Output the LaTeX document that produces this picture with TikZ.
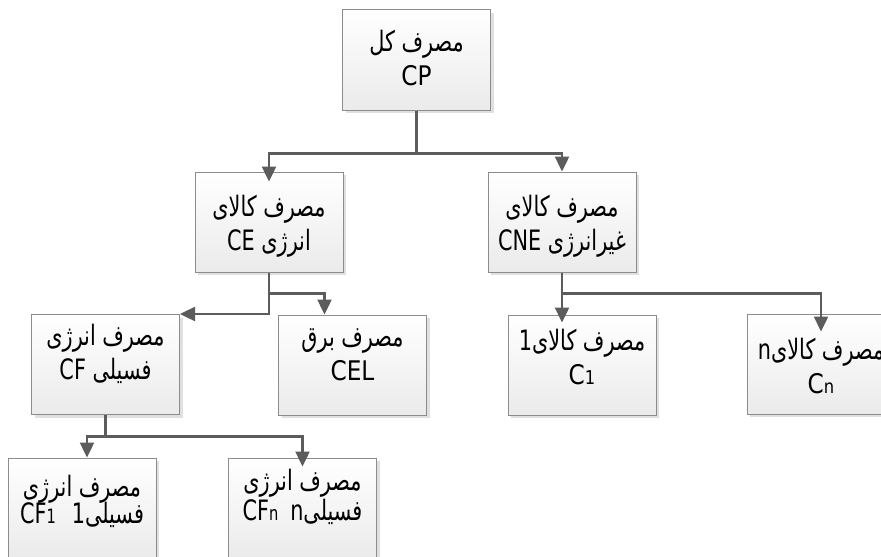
\documentclass[tikz,border=0pt]{standalone}
\usepackage{fontspec}
\setmainfont{DejaVu Sans}[FakeStretch=0.86]
\newfontfamily\farsi[Script=Arabic,FakeStretch=0.74,Scale=1.04]{DejaVu Sans}
\TeXXeTstate=1
\usetikzlibrary{arrows.meta,shadows}

\newcommand\fa[1]{{\farsi\beginR #1\endR}}
\newcommand\la[1]{\beginL #1\endL}
\newcommand\sm[1]{{\fontsize{9.5}{9.5}\selectfont #1}}

\tikzset{
  box/.style={draw=black!45, line width=0.5pt, top color=white, bottom color=black!8,
    minimum width=74pt, minimum height=50pt, inner sep=0pt,
    drop shadow={shadow xshift=1.5pt, shadow yshift=-1.5pt, fill=black!12, opacity=1}},
  boxtext/.style={align=center, font=\fontsize{13.5}{17}\selectfont, inner sep=0pt},
  link/.style={draw=black!64, line width=1.2pt, -{Triangle[width=7pt,length=7.5pt]}}
}

\begin{document}
\begin{tikzpicture}[x=0.5pt, y=-0.5pt]

   \fill[white] (0,0) rectangle (881,556);
   \useasboundingbox (0,0) rectangle (881,556);

   \foreach \nm/\x/\y/\dy/\tx in {
       cp/416.5/60/1/{\fa{مصرف کل}\\CP},
       ce/269/222/-2.25/{\fa{مصرف کالای}\\\fa{انرژی \la{CE}}},
       cne/562/222/-2.25/{\fa{مصرف کالای}\\\fa{غیرانرژی \la{CNE}}},
       cf/105.5/364.5/5.5/{\fa{مصرف انرژی}\\\fa{فسیلی \la{CF}}},
       cel/352.5/365/5/{\fa{مصرف برق}\\CEL},
       cg1/582/365/4/{\fa{مصرف کالای1}\\C\sm{1}},
       cgn/821/364/-1.2/{\fa{مصرف کالای\la{n}}\\C\sm{n}},
       cf1/82/508/3.25/{\fa{مصرف انرژی}\\[-3.5pt]\fa{فسیلی1\hspace{8pt}\la{CF\sm{1}}}},
       cfn/302.5/508/5.5/{\fa{مصرف انرژی}\\[-2pt]\fa{فسیلی\la{n}\hspace{6pt}\la{CF\sm{n}}}}}
     {
       \node [box] (\nm) at (\x,\y) {};
       \node [boxtext] (\nm-t) at ([yshift=\dy pt]\nm.center) {\tx};
     }

   % total to energy / non-energy goods
   \draw [link] (cp.south) -- ++(0,43) -| ([yshift=-5pt]ce.north);
   \draw [link] (cp.south) -- ++(0,43) -| (cne.north);

   % energy goods
   \draw [link] (ce.south) -- ++(0,21) -| ([xshift=-14pt]cel.north);
   \draw [link] (ce.south) |- (cf.north east);

   % non-energy goods
   \draw [link] (cne.south) -- ([yshift=-4pt]cne.south |- cg1.north);
   \draw [link] (cne.south) -- ++(0,21) -| ([yshift=-9pt]cgn.north);

   % fossil fuels
   \draw [link] (cf.south) -- ++(0,21.5) -| ([xshift=2.5pt]cf1.north);
   \draw [link] (cf.south) -- ++(0,21.5) -| ([yshift=-4.5pt]cfn.north);

\end{tikzpicture}
\end{document}
